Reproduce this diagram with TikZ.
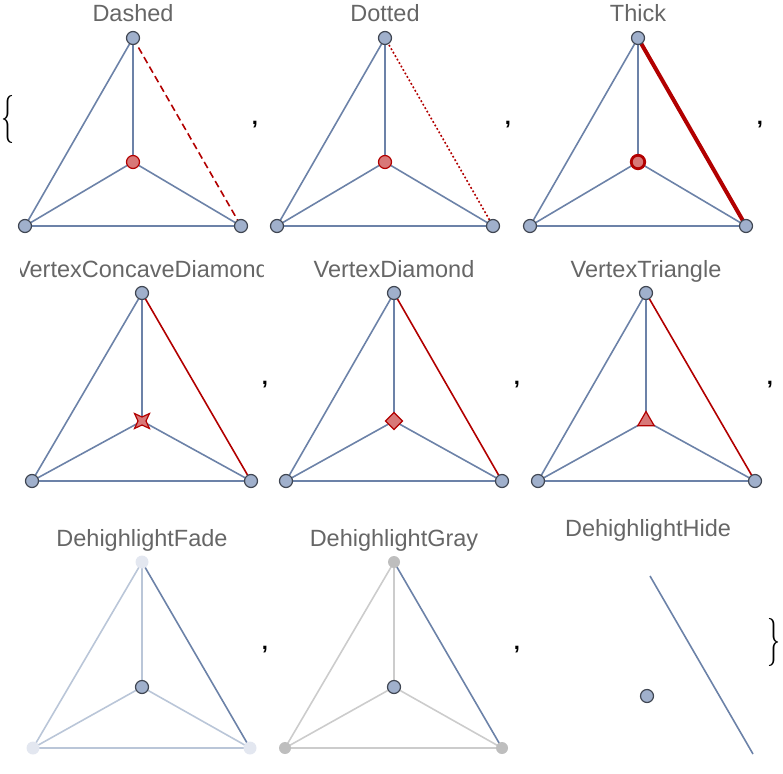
\documentclass[tikz,border=0pt]{standalone}
\usepackage{fontspec}
\newfontfamily\labelfont{Liberation Sans}
\usetikzlibrary{shapes.geometric}
\definecolor{edgeblue}{RGB}{108,130,168}
\definecolor{vtxfill}{RGB}{160,176,204}
\definecolor{vtxline}{RGB}{64,70,82}
\definecolor{hlred}{RGB}{178,0,0}
\definecolor{hlfill}{RGB}{216,120,120}
\definecolor{fadeedge}{RGB}{186,198,216}
\definecolor{fadevtx}{RGB}{227,231,240}
\definecolor{grayedge}{RGB}{204,204,204}
\definecolor{grayvtx}{RGB}{190,190,190}
\definecolor{titlegray}{RGB}{102,102,102}

\begin{document}
\begin{tikzpicture}[x=1pt,y=-1pt]

\tikzstyle{every node}=[inner sep=0pt, outer sep=0pt]
\tikzstyle{vtx}=[circle, draw=vtxline, fill=vtxfill, line width=1.2pt, minimum size=13pt]
\tikzstyle{hlvtx}=[vtx, draw=hlred, fill=hlfill]
\tikzstyle{edge}=[draw=edgeblue, line width=1.6pt]
\tikzstyle{hledge}=[draw=hlred, line width=1.6pt]
\tikzstyle{title}=[font=\labelfont\fontsize{23.5}{23.5}\selectfont, text=titlegray, anchor=base]
\tikzstyle{punct}=[font=\labelfont\bfseries\fontsize{22}{22}\selectfont]
\tikzstyle{brace}=[font=\fontsize{26}{26}\selectfont]

\useasboundingbox (0,0) rectangle (783,773);

% braces and commas
\node[brace] (open) at (8,119) {\scalebox{1}[1.85]{\textbraceleft}};
\node[brace] (close) at (774,642) {\scalebox{1}[1.85]{\textbraceright}};
\node[punct] (c1) at (255,125) {,};
\node[punct] (c2) at (508,125) {,};
\node[punct] (c3) at (760,125) {,};
\node[punct] (c4) at (265,385) {,};
\node[punct] (c5) at (517,385) {,};
\node[punct] (c6) at (770,385) {,};
\node[punct] (c7) at (265,650) {,};
\node[punct] (c8) at (517,650) {,};

% Dashed
\node[title] (tDashed) at (133,22) {Dashed};
\begin{scope}[shift={(133,38)}]
\coordinate (dT) at (0,0);
\coordinate (dC) at (0,124);
\coordinate (dL) at (-108,188);
\coordinate (dR) at (108,188);
\draw[edge] (dT) -- (dC);
\draw[edge] (dT) -- (dL);
\draw[edge] (dC) -- (dL);
\draw[edge] (dC) -- (dR);
\draw[edge] (dL) -- (dR);
\draw[hledge, dash pattern=on 7pt off 4pt] (dT) -- (dR);
\node[vtx] at (dT) {};
\node[hlvtx] at (dC) {};
\node[vtx] at (dL) {};
\node[vtx] at (dR) {};
\end{scope}

% Dotted
\node[title] (tDotted) at (385,22) {Dotted};
\begin{scope}[shift={(385,38)}]
\coordinate (oT) at (0,0);
\coordinate (oC) at (0,124);
\coordinate (oL) at (-108,188);
\coordinate (oR) at (108,188);
\draw[edge] (oT) -- (oC);
\draw[edge] (oT) -- (oL);
\draw[edge] (oC) -- (oL);
\draw[edge] (oC) -- (oR);
\draw[edge] (oL) -- (oR);
\draw[hledge, dash pattern=on 1.8pt off 2.2pt] (oT) -- (oR);
\node[vtx] at (oT) {};
\node[hlvtx] at (oC) {};
\node[vtx] at (oL) {};
\node[vtx] at (oR) {};
\end{scope}

% Thick
\node[title] (tThick) at (638,22) {Thick};
\begin{scope}[shift={(638,38)}]
\coordinate (kT) at (0,0);
\coordinate (kC) at (0,124);
\coordinate (kL) at (-108,188);
\coordinate (kR) at (108,188);
\draw[edge] (kT) -- (kC);
\draw[edge] (kT) -- (kL);
\draw[edge] (kC) -- (kL);
\draw[edge] (kC) -- (kR);
\draw[edge] (kL) -- (kR);
\draw[hledge, line width=4pt] (kT) -- (kR);
\node[vtx] at (kT) {};
\node[hlvtx, line width=2.8pt, minimum size=13.5pt] at (kC) {};
\node[vtx] at (kL) {};
\node[vtx] at (kR) {};
\end{scope}

% VertexConcaveDiamond
\begin{scope}
\clip (20,240) rectangle (263,300);
\node[title] (tConcave) at (142,277) {VertexConcaveDiamond};
\end{scope}
\begin{scope}[shift={(142,293)}]
\coordinate (sT) at (0,0);
\coordinate (sC) at (0,128);
\coordinate (sL) at (-110,188);
\coordinate (sR) at (109,188);
\draw[edge] (sT) -- (sC);
\draw[edge] (sT) -- (sL);
\draw[edge] (sC) -- (sL);
\draw[edge] (sC) -- (sR);
\draw[edge] (sL) -- (sR);
\draw[hledge] (sT) -- (sR);
\node[vtx] at (sT) {};
\node[star, star points=4, star point ratio=0.38, draw=hlred, fill=hlfill,
  line width=1.2pt, minimum size=8pt] at (sC) {};
\node[vtx] at (sL) {};
\node[vtx] at (sR) {};
\end{scope}

% VertexDiamond
\node[title] (tDiamond) at (394,277) {VertexDiamond};
\begin{scope}[shift={(394,293)}]
\coordinate (mT) at (0,0);
\coordinate (mC) at (0,128);
\coordinate (mL) at (-108,188);
\coordinate (mR) at (108,188);
\draw[edge] (mT) -- (mC);
\draw[edge] (mT) -- (mL);
\draw[edge] (mC) -- (mL);
\draw[edge] (mC) -- (mR);
\draw[edge] (mL) -- (mR);
\draw[hledge] (mT) -- (mR);
\node[vtx] at (mT) {};
\node[diamond, draw=hlred, fill=hlfill, line width=1.2pt, minimum size=17pt] at (mC) {};
\node[vtx] at (mL) {};
\node[vtx] at (mR) {};
\end{scope}

% VertexTriangle
\node[title] (tTriangle) at (646,277) {VertexTriangle};
\begin{scope}[shift={(646,293)}]
\coordinate (gT) at (0,0);
\coordinate (gC) at (0,128);
\coordinate (gL) at (-108,188);
\coordinate (gR) at (109,188);
\draw[edge] (gT) -- (gC);
\draw[edge] (gT) -- (gL);
\draw[edge] (gC) -- (gL);
\draw[edge] (gC) -- (gR);
\draw[edge] (gL) -- (gR);
\draw[hledge] (gT) -- (gR);
\node[vtx] at (gT) {};
\node[regular polygon, regular polygon sides=3, draw=hlred, fill=hlfill,
  line width=1.2pt, minimum size=19pt] at (gC) {};
\node[vtx] at (gL) {};
\node[vtx] at (gR) {};
\end{scope}

% DehighlightFade
\node[title] (tFade) at (142,546) {DehighlightFade};
\begin{scope}[shift={(142,562)}]
\coordinate (fT) at (0,0);
\coordinate (fC) at (0,125);
\coordinate (fL) at (-109,186);
\coordinate (fR) at (108,186);
\draw[edge, draw=fadeedge] (fT) -- (fC);
\draw[edge, draw=fadeedge] (fT) -- (fL);
\draw[edge, draw=fadeedge] (fC) -- (fL);
\draw[edge, draw=fadeedge] (fC) -- (fR);
\draw[edge, draw=fadeedge] (fL) -- (fR);
\draw[edge] (fT) -- (fR);
\node[vtx, draw=none, fill=fadevtx] at (fT) {};
\node[vtx] at (fC) {};
\node[vtx, draw=none, fill=fadevtx] at (fL) {};
\node[vtx, draw=none, fill=fadevtx] at (fR) {};
\end{scope}

% DehighlightGray
\node[title] (tGray) at (394,546) {DehighlightGray};
\begin{scope}[shift={(394,562)}]
\coordinate (yT) at (0,0);
\coordinate (yC) at (0,125);
\coordinate (yL) at (-109,186);
\coordinate (yR) at (108,186);
\draw[edge, draw=grayedge] (yT) -- (yC);
\draw[edge, draw=grayedge] (yT) -- (yL);
\draw[edge, draw=grayedge] (yC) -- (yL);
\draw[edge, draw=grayedge] (yC) -- (yR);
\draw[edge, draw=grayedge] (yL) -- (yR);
\draw[edge] (yT) -- (yR);
\node[vtx, draw=none, fill=grayvtx, minimum size=12pt] at (yT) {};
\node[vtx] at (yC) {};
\node[vtx, draw=none, fill=grayvtx, minimum size=12pt] at (yL) {};
\node[vtx, draw=none, fill=grayvtx, minimum size=12pt] at (yR) {};
\end{scope}

% DehighlightHide
\node[title] (tHide) at (648,536) {DehighlightHide};
\coordinate (hT) at (650,576);
\coordinate (hR) at (753,754);
\draw[edge] (hT) -- (hR);
\node[vtx] (hC) at (647,696) {};

\end{tikzpicture}
\end{document}
